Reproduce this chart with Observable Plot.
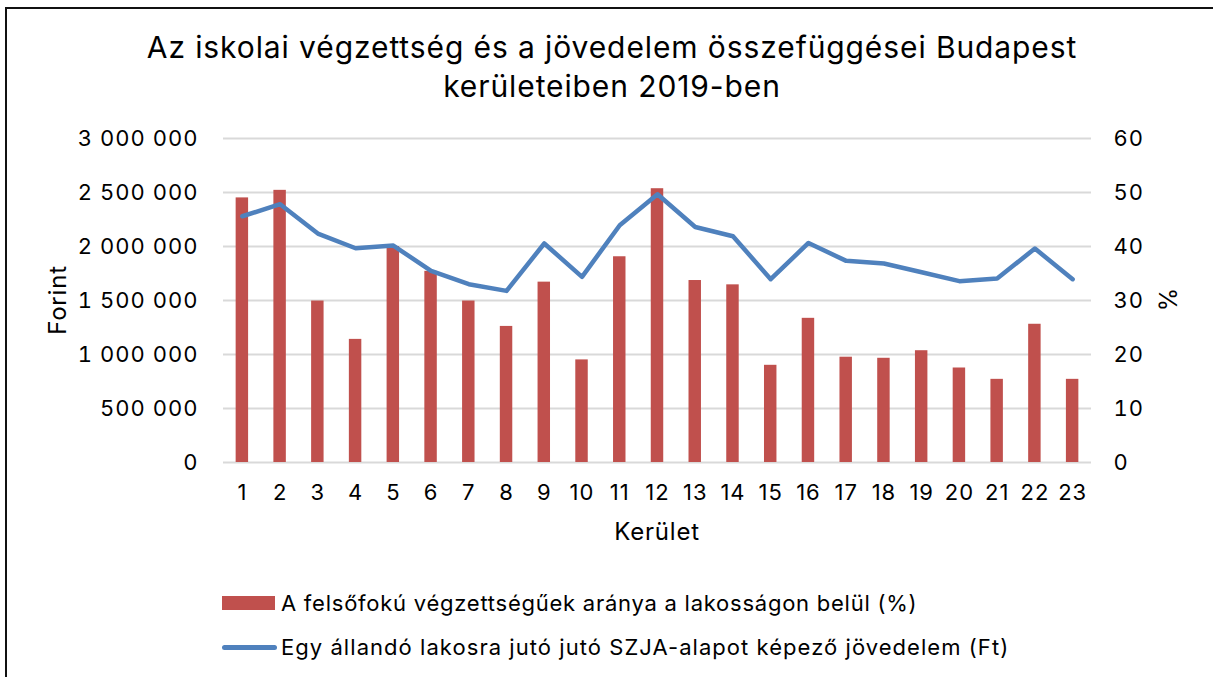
<!DOCTYPE html>
<html>
<head>
<meta charset="utf-8">
<script src="https://cdn.jsdelivr.net/npm/d3@7"></script>
<script src="https://cdn.jsdelivr.net/npm/@observablehq/plot@0.6"></script>
<style>
  html, body { margin: 0; padding: 0; background: #fff; }
  body { width: 1213px; height: 677px; position: relative; overflow: hidden; font-family: Inter, "Open Sans", sans-serif; color: #000; }
  #frame { position: absolute; left: 5px; top: 7px; width: 1300px; height: 800px; border-top: 2px solid #111; border-left: 2px solid #111; }
  #title { position: absolute; left: 0; width: 1224px; top: 28px; text-align: center; font-size: 30px; letter-spacing: 0.9px; line-height: 39px; font-weight: 400; }
  #chart { position: absolute; left: 0; top: 120px; }
  .axt { position: absolute; font-size: 24px; letter-spacing: 0.8px; white-space: nowrap; }
  .leg { position: absolute; left: 222px; font-size: 22px; letter-spacing: 0.75px; white-space: nowrap; }
  .leg .sw { position: absolute; left: 0; }
  .leg .tx { position: absolute; left: 59px; top: 0; transform: translateY(-50%); }
</style>
</head>
<body>
<div id="frame"></div>
<div id="title">Az iskolai végzettség és a jövedelem összefüggései Budapest<br>kerületeiben 2019-ben</div>
<div id="chart"></div>
<div class="axt" style="left:57px; top:300px; transform: translate(-50%,-50%) rotate(-90deg);">Forint</div>
<div class="axt" style="left:1167px; top:300px; transform: translate(-50%,-50%) rotate(90deg);">%</div>
<div class="axt" style="left:657px; top:531px; transform: translate(-50%,-50%);">Kerület</div>
<div class="leg" style="top:603px;"><div class="sw" style="top:-7px; width:53px; height:14px; background:#C0504D;"></div><div class="tx" id="leg1"></div></div>
<div class="leg" style="top:647px; letter-spacing:1.05px;"><div class="sw" style="top:-2.5px; width:55px; height:5px; border-radius:3px; background:#4F81BD;"></div><div class="tx" id="leg2"></div></div>
<script>
// Data
const kerulet = [1,2,3,4,5,6,7,8,9,10,11,12,13,14,15,16,17,18,19,20,21,22,23];
const felsofoku = [49.0, 50.4, 29.9, 22.8, 40.0, 35.4, 29.9, 25.2, 33.4, 19.0, 38.1, 50.7, 33.7, 32.9, 18.0, 26.7, 19.5, 19.3, 20.7, 17.5, 15.4, 25.6, 15.4];
const jovedelem = [2280000, 2392000, 2120000, 1984000, 2009000, 1774000, 1651000, 1589000, 2028000, 1719000, 2197000, 2484000, 2181000, 2095000, 1697000, 2033000, 1867000, 1842000, 1762000, 1679000, 1704000, 1981000, 1697000];
const leftTicks = [0, 500000, 1000000, 1500000, 2000000, 2500000, 3000000];
const rightTicks = [0, 10, 20, 30, 40, 50, 60];
const seriesNames = [
  "A felsőfokú végzettségűek aránya a lakosságon belül (%)",
  "Egy állandó lakosra jutó jutó SZJA-alapot képező jövedelem (Ft)"
];

const ratio = 3000000 / 60;
const rows = kerulet.map((k, i) => ({k, pct: felsofoku[i], ft: jovedelem[i]}));
const fmt = d => d3.format(",")(d).replace(/,/g, "\u00a0");

const chart = Plot.plot({
  width: 1213,
  height: 440,
  marginLeft: 223,
  marginRight: 122,
  marginTop: 18,
  marginBottom: 98,
  style: {fontFamily: "Inter, 'Open Sans', sans-serif", fontSize: "22px", letterSpacing: "1px", color: "#000", background: "transparent"},
  x: {type: "band", domain: kerulet, paddingInner: 0.67, paddingOuter: 0.335, round: false},
  y: {domain: [0, 3000000]},
  marks: [
    Plot.gridY(leftTicks, {stroke: "#d9d9d9", strokeOpacity: 1, strokeWidth: 2}),
    Plot.barY(rows, {x: "k", y: d => d.pct * ratio, fill: "#C0504D"}),
    Plot.line(rows, {x: "k", y: "ft", stroke: "#4F81BD", strokeWidth: 4.5, strokeLinejoin: "round", strokeLinecap: "round"}),
    Plot.axisX({tickSize: 0, tickPadding: 22, label: null}),
    Plot.axisY({ticks: leftTicks, tickFormat: fmt, tickSize: 0, tickPadding: 25, label: null}),
    Plot.axisY({anchor: "right", ticks: rightTicks.map(v => v * ratio), tickFormat: d => String(d / ratio), tickSize: 0, tickPadding: 22, label: null})
  ]
});
document.getElementById("chart").appendChild(chart);
document.getElementById("leg1").textContent = seriesNames[0];
document.getElementById("leg2").textContent = seriesNames[1];
</script>
</body>
</html>
